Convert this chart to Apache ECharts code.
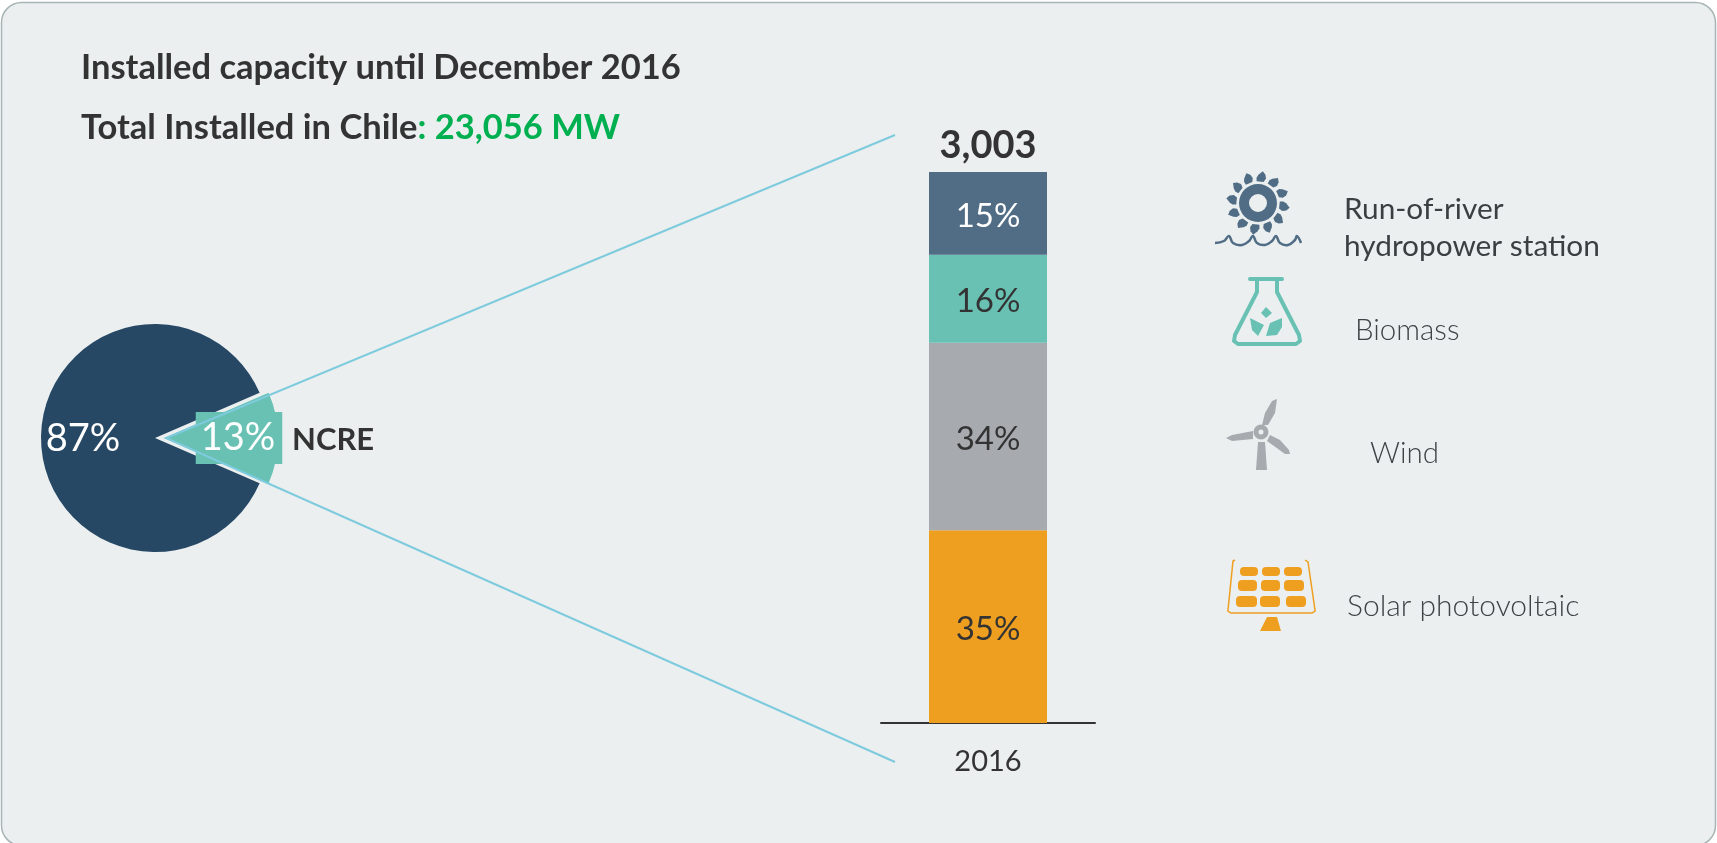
<!DOCTYPE html>
<html><head><meta charset="utf-8">
<style>html,body{margin:0;padding:0;background:#fff;overflow:hidden}#c{width:1717px;height:843px}</style>
<script src="https://cdn.jsdelivr.net/npm/echarts@6/dist/echarts.min.js"></script>
</head><body><div id="c"></div>
<script>
const titleLine1 = 'Installed capacity until December 2016';
const titleLine2a = 'Total Installed in Chile';
const titleLine2b = ': 23,056 MW';
const pieNames = ['NCRE', 'Other'];
const pieValues = [13, 87];
const years = ['2016'];
const stackNames = ['Solar photovoltaic', 'Wind', 'Biomass', 'Run-of-river hydropower station'];
const stackValues = [35, 34, 16, 15];
const totalLabel = '3,003';
const F = 'Lato';
const DARK = '#333333', NAVY = '#264864', TEAL = '#69C1B4', SLATE = '#516D85', GREY = '#A7ABB0', ORANGE = '#EF9F20', LINK = '#7DCBDD';
const stackColors = [ORANGE, GREY, TEAL, SLATE];
const stackText = [DARK, DARK, DARK, '#fff'];

const g = [];
g.push({type:'rect',z:-10,shape:{x:1.5,y:2.5,width:1714,height:843,r:20},style:{fill:'#EBEFF0',stroke:'#A9B5B5',lineWidth:1.5}});
// connectors
g.push({type:'polyline',z:100,shape:{points:[[895,135],[166,438],[895,762]]},style:{fill:null,stroke:LINK,lineWidth:2}});
// legend text
const txt=(t,x,y,size,fill,weight)=>g.push({type:'text',z:50,x,y,style:{text:t,fill:fill||'#3b3f42',font:(weight||'400')+' '+size+'px '+F,textVerticalAlign:'middle',textBaseline:'middle'}});
txt('Run-of-river',1344,209,29.8);
txt('hydropower station',1344,246,29.8);
txt('Biomass',1355,330,29.5,'#3f4346','300');
txt('Wind',1370,453,29.5,'#3f4346','300');
txt('Solar photovoltaic',1347,606,30,'#3f4346','300');
txt('NCRE',292,440,31,DARK,'700');

// icon: hydro turbine
const hx=1258,hy=203;
g.push({type:'ring',z:40,shape:{cx:hx,cy:hy,r:19,r0:9},style:{fill:SLATE}});
for(let i=0;i<12;i++){
  g.push({type:'polygon',z:40,x:hx,y:hy,rotation:-i*Math.PI/6-0.12,
    shape:{points:[[-4,-21.5],[3,-21.5],[5,-25],[4,-29],[1,-32],[-3,-28],[-4.5,-25]]},style:{fill:SLATE}});
}
g.push({type:'polyline',z:40,shape:{smooth:0.45,points:[[1215,243],[1224,241],[1229,236],[1233,243],[1242,245],[1249,241],[1253,236],[1257,243],[1265,245],[1272,241],[1276,236],[1280,243],[1288,245],[1295,240],[1297,236],[1301,243]]},style:{fill:null,stroke:SLATE,lineWidth:2.5}});

// icon: flask
g.push({type:'rect',z:40,shape:{x:1248,y:277,width:36,height:4,r:2},style:{fill:TEAL}});
g.push({type:'polyline',z:40,shape:{points:[[1257,280],[1257,292],[1235,335],[1234,341],[1238,344],[1296,344],[1300,341],[1299,335],[1277,292],[1277,280]]},style:{fill:null,stroke:TEAL,lineWidth:4,lineJoin:'round'}});
g.push({type:'polygon',z:40,shape:{points:[[1266,307],[1272,313],[1266,318],[1261,313]]},style:{fill:TEAL}});
g.push({type:'polygon',z:40,shape:{points:[[1250,318],[1264,325],[1258,336],[1252,330]]},style:{fill:TEAL}});
g.push({type:'polygon',z:40,shape:{points:[[1282,318],[1270,323],[1266,336],[1277,335],[1282,327]]},style:{fill:TEAL}});

// icon: wind turbine
g.push({type:'ring',z:40,shape:{cx:1261,cy:432,r:7.5,r0:2.5},style:{fill:GREY}});
g.push({type:'polygon',z:40,shape:{points:[[1262,425],[1268,425],[1275,413],[1277,399],[1272,401],[1265,413]]},style:{fill:GREY}});
g.push({type:'polygon',z:40,shape:{points:[[1253,431],[1253,439],[1232,441],[1226,438],[1232,435]]},style:{fill:GREY}});
g.push({type:'polygon',z:40,shape:{points:[[1270,435],[1267,441],[1285,454],[1290,454],[1289,450],[1280,440]]},style:{fill:GREY}});
g.push({type:'polygon',z:40,shape:{points:[[1258,442],[1265,442],[1267,470],[1256,470]]},style:{fill:GREY}});

// icon: solar panel
g.push({type:'polyline',z:40,shape:{points:[[1235,560],[1233,561],[1228,610],[1228,611],[1231,613],[1312,613],[1315,611],[1315,610],[1308,562],[1305,560]]},style:{fill:null,stroke:ORANGE,lineWidth:1.5}});
const cells=[[1240,567,18,9],[1262,567,18,9],[1284,567,18,9],[1238,580,19,11],[1261,580,19,11],[1284,580,20,11],[1236,596,21,11],[1260,596,20,11],[1286,596,20,11]];
cells.forEach(c=>g.push({type:'rect',z:40,shape:{x:c[0],y:c[1],width:c[2],height:c[3],r:4},style:{fill:ORANGE}}));
g.push({type:'polygon',z:40,shape:{points:[[1267,617],[1277,617],[1281,631],[1260,631]]},style:{fill:ORANGE}});

const option = {
  animation:false,
  backgroundColor:'#ffffff',
  title:[
    {text:titleLine1,left:76,top:45,textStyle:{fontFamily:F,fontWeight:700,fontSize:34.5,color:DARK}},
    {text:'{a|'+titleLine2a+'}{b|'+titleLine2b+'}',left:76,top:105,textStyle:{rich:{
      a:{fontFamily:F,fontWeight:700,fontSize:34.5,color:DARK},
      b:{fontFamily:F,fontWeight:700,fontSize:34.5,color:'#00B050'}}}}
  ],
  grid:{left:881,top:172,width:214,height:551,containLabel:false},
  xAxis:{type:'category',data:years,axisLine:{lineStyle:{color:DARK,width:2}},axisTick:{show:false},
    axisLabel:{fontFamily:F,fontSize:29,color:DARK,margin:24}},
  yAxis:{type:'value',min:0,max:100,show:false},
  series:[
    {type:'pie',center:[155,438],radius:[0,114],startAngle:23.4,clockwise:true,silent:true,
      selectedMode:'single',selectedOffset:9,
      labelLine:{show:false},
      label:{show:true,position:'inside',fontFamily:F,fontSize:38,color:'#fff',formatter:'{d}%'},
      labelLayout:p=>p.dataIndex===0?{dx:15}:{dx:-12,dy:1},
      data:[
        {name:pieNames[0],value:pieValues[0],selected:true,itemStyle:{color:TEAL},
          label:{backgroundColor:TEAL,padding:[8,7,6,5],formatter:pieValues[0]+'%'}},
        {name:pieNames[1],value:pieValues[1],itemStyle:{color:NAVY},label:{formatter:pieValues[1]+'%'}}
      ]},
    ...stackNames.map((n,i)=>({type:'bar',name:n,stack:'a',barWidth:118,data:[stackValues[i]],
      itemStyle:{color:stackColors[i]},silent:true,
      label:{show:true,position:'inside',offset:[0,3],fontFamily:F,fontSize:33,color:stackText[i],formatter:'{c}%'}})),
    {type:'scatter',data:[[years[0],100]],symbolSize:0,silent:true,itemStyle:{opacity:1},
      label:{show:true,position:'top',distance:7,formatter:totalLabel,fontFamily:F,fontWeight:700,fontSize:38,color:DARK}}
  ],
  graphic:{elements:g}
};
const chart = echarts.init(document.getElementById('c'),null,{renderer:'canvas'});
chart.setOption(option);
</script></body></html>
